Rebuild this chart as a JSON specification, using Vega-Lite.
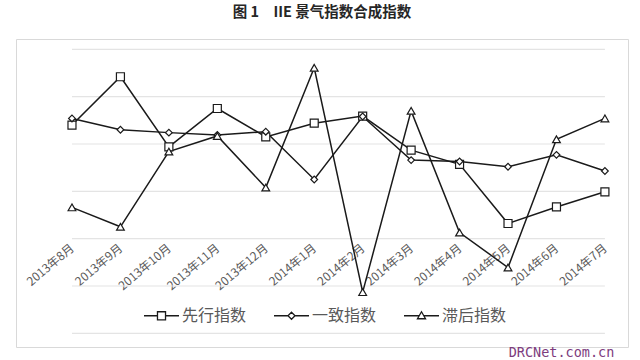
{
  "$schema": "https://vega.github.io/schema/vega-lite/v6.json",
  "width": 612,
  "height": 308,
  "autosize": {"type": "none"},
  "padding": {"left": 16, "top": 39, "right": 12, "bottom": 13},
  "background": "white",
  "title": {"text": "图 1　IIE 景气指数合成指数", "anchor": "middle", "offset": 19, "fontSize": 14.5, "fontWeight": "bold", "color": "#262626", "font": "Noto Sans CJK SC"},
  "data": {"values": [
      {"i": 1, "month": "2013年8月", "series": "先行指数", "value": 101.40},
      {"i": 2, "month": "2013年9月", "series": "先行指数", "value": 102.42},
      {"i": 3, "month": "2013年10月", "series": "先行指数", "value": 100.94},
      {"i": 4, "month": "2013年11月", "series": "先行指数", "value": 101.75},
      {"i": 5, "month": "2013年12月", "series": "先行指数", "value": 101.15},
      {"i": 6, "month": "2014年1月", "series": "先行指数", "value": 101.44},
      {"i": 7, "month": "2014年2月", "series": "先行指数", "value": 101.59},
      {"i": 8, "month": "2014年3月", "series": "先行指数", "value": 100.87},
      {"i": 9, "month": "2014年4月", "series": "先行指数", "value": 100.57},
      {"i": 10, "month": "2014年5月", "series": "先行指数", "value": 99.32},
      {"i": 11, "month": "2014年6月", "series": "先行指数", "value": 99.67},
      {"i": 12, "month": "2014年7月", "series": "先行指数", "value": 99.99},
      {"i": 1, "month": "2013年8月", "series": "一致指数", "value": 101.54},
      {"i": 2, "month": "2013年9月", "series": "一致指数", "value": 101.30},
      {"i": 3, "month": "2013年10月", "series": "一致指数", "value": 101.24},
      {"i": 4, "month": "2013年11月", "series": "一致指数", "value": 101.19},
      {"i": 5, "month": "2013年12月", "series": "一致指数", "value": 101.26},
      {"i": 6, "month": "2014年1月", "series": "一致指数", "value": 100.25},
      {"i": 7, "month": "2014年2月", "series": "一致指数", "value": 101.58},
      {"i": 8, "month": "2014年3月", "series": "一致指数", "value": 100.66},
      {"i": 9, "month": "2014年4月", "series": "一致指数", "value": 100.63},
      {"i": 10, "month": "2014年5月", "series": "一致指数", "value": 100.52},
      {"i": 11, "month": "2014年6月", "series": "一致指数", "value": 100.77},
      {"i": 12, "month": "2014年7月", "series": "一致指数", "value": 100.43},
      {"i": 1, "month": "2013年8月", "series": "滞后指数", "value": 99.66},
      {"i": 2, "month": "2013年9月", "series": "滞后指数", "value": 99.25},
      {"i": 3, "month": "2013年10月", "series": "滞后指数", "value": 100.84},
      {"i": 4, "month": "2013年11月", "series": "滞后指数", "value": 101.17},
      {"i": 5, "month": "2013年12月", "series": "滞后指数", "value": 100.08},
      {"i": 6, "month": "2014年1月", "series": "滞后指数", "value": 102.61},
      {"i": 7, "month": "2014年2月", "series": "滞后指数", "value": 97.87},
      {"i": 8, "month": "2014年3月", "series": "滞后指数", "value": 101.70},
      {"i": 9, "month": "2014年4月", "series": "滞后指数", "value": 99.13},
      {"i": 10, "month": "2014年5月", "series": "滞后指数", "value": 98.39},
      {"i": 11, "month": "2014年6月", "series": "滞后指数", "value": 101.10},
      {"i": 12, "month": "2014年7月", "series": "滞后指数", "value": 101.54}
  ]},
  "encoding": {
    "x": {
      "field": "month", "type": "ordinal",
      "scale": {"type": "point", "domain": ["2013年8月", "2013年9月", "2013年10月", "2013年11月", "2013年12月", "2014年1月", "2014年2月", "2014年3月", "2014年4月", "2014年5月", "2014年6月", "2014年7月"], "padding": 0.816, "align": 0.708},
      "axis": {"title": "DRCNet.com.cn", "titleX": 545, "titleY": 108, "titleAlign": "center", "titleBaseline": "middle", "titleColor": "#7d3c7d", "titleFont": "DejaVu Sans Mono", "titleFontSize": 13.5, "titleFontWeight": "normal", "orient": "bottom", "offset": -103, "domain": false, "ticks": false, "grid": false, "labelAngle": -40, "labelAlign": "right", "labelBaseline": "middle", "labelPadding": 2, "labelOffset": 0, "labelFontSize": 12, "labelColor": "#595959", "labelFont": "Noto Sans CJK SC", "labelOverlap": false, "labelBound": false}
    },
    "y": {"field": "value", "type": "quantitative", "scale": {"domain": [96.711, 103.218], "nice": false, "zero": false}, "axis": null}
  },
  "layer": [
    {
      "data": {"values": [
        {"g": 97, "month": "2013年8月"}, {"g": 97, "month": "2014年7月"},
        {"g": 98, "month": "2013年8月"}, {"g": 98, "month": "2014年7月"},
        {"g": 99, "month": "2013年8月"}, {"g": 99, "month": "2014年7月"},
        {"g": 100, "month": "2013年8月"}, {"g": 100, "month": "2014年7月"},
        {"g": 101, "month": "2013年8月"}, {"g": 101, "month": "2014年7月"},
        {"g": 102, "month": "2013年8月"}, {"g": 102, "month": "2014年7月"},
        {"g": 103, "month": "2013年8月"}, {"g": 103, "month": "2014年7月"}
      ]},
      "mark": {"type": "line", "color": "#e4e4e4", "strokeWidth": 1.2},
      "encoding": {
        "y": {"field": "g", "type": "quantitative", "axis": null},
        "detail": {"field": "g", "type": "nominal"}
      }
    },
    {
      "mark": {"type": "line", "color": "#1a1a1a", "strokeWidth": 1.5},
      "encoding": {
        "detail": {"field": "series", "type": "nominal"},
        "order": {"field": "i", "type": "quantitative"}
      }
    },
    {
      "transform": [{"filter": "datum.series === '先行指数'"}],
      "mark": {"type": "point", "shape": "square", "size": 64, "filled": true, "fill": "white", "stroke": "#1a1a1a", "strokeWidth": 1.2, "opacity": 1}
    },
    {
      "transform": [{"filter": "datum.series === '一致指数'"}],
      "mark": {"type": "point", "shape": "diamond", "size": 45, "filled": true, "fill": "white", "stroke": "#1a1a1a", "strokeWidth": 1.2, "opacity": 1}
    },
    {
      "transform": [{"filter": "datum.series === '滞后指数'"}],
      "mark": {"type": "point", "shape": "triangle-up", "size": 60, "filled": true, "fill": "white", "stroke": "#1a1a1a", "strokeWidth": 1.2, "opacity": 1}
    },
    {
      "transform": [{"filter": "false"}],
      "mark": {"type": "point", "filled": false, "color": "#1a1a1a", "strokeWidth": 1.3, "opacity": 1},
      "encoding": {
        "shape": {
          "field": "series", "type": "nominal",
          "scale": {"domain": ["先行指数", "一致指数", "滞后指数"], "range": ["M-1,0H-0.23M0.23,0H1M-0.23,-0.23H0.23V0.23H-0.23Z", "M-1,0H-0.2M0.2,0H1M-0.2,0L0,-0.2L0.2,0L0,0.2Z", "M-1,0H-0.12M0.12,0H1M-0.23,0.17L0,-0.23L0.23,0.17Z"]},
          "legend": {
            "title": null, "orient": "none", "legendX": 127, "legendY": 258, "direction": "horizontal",
            "symbolSize": 1225, "symbolOpacity": 1, "symbolStrokeColor": "#1a1a1a", "symbolStrokeWidth": 1.3,
            "labelFontSize": 16, "labelColor": "#595959", "labelFont": "Noto Sans CJK SC",
            "columnPadding": 24, "labelOffset": 2
          }
        }
      }
    }
  ],
  "config": {"view": {"stroke": "#d9d9d9", "strokeWidth": 1}}
}
